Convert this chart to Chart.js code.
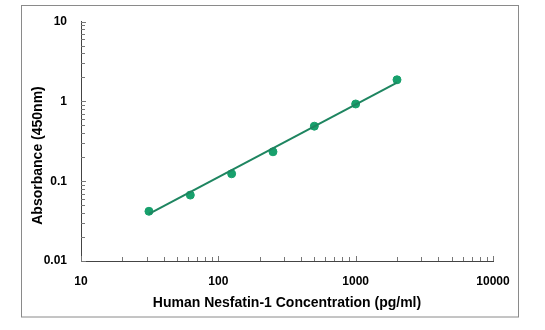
<!DOCTYPE html>
<html>
<head>
<meta charset="utf-8">
<script src="https://cdn.jsdelivr.net/npm/chart.js@4"></script>
<style>
  html, body { margin: 0; padding: 0; background: #fff; }
  #wrap { width: 545px; height: 330px; position: relative; }
</style>
</head>
<body>
<div id="wrap"><canvas id="myChart" width="545" height="330"></canvas></div>
<script>
// standard concentrations (pg/ml) and measured OD
const concentrations = [31.25, 62.5, 125, 250, 500, 1000, 2000];
const absorbance = [0.042, 0.067, 0.124, 0.234, 0.49, 0.93, 1.87];

// fitted curve end points
const fitX = [31.25, 2000];
const fitY = [0.039, 1.72];

// tick labels
const xTicks = [10, 100, 1000, 10000];
const yTicks = [0.01, 0.1, 1, 10];

const green = '#17a06c';
const lineGreen = '#1e8560';
const axisColor = '#444';
const tickFont = { family: 'Liberation Sans, Arial, sans-serif', size: 12, weight: 'bold' };
const titleFont = { family: 'Liberation Sans, Arial, sans-serif', size: 14, weight: 'bold' };

// minor ticks on the inside of both axes, outer frame, y title
const minorTicks = {
  id: 'minorTicks',
  afterDraw(chart) {
    const { ctx, chartArea, scales } = chart;
    ctx.save();
    ctx.strokeStyle = '#777';
    ctx.lineWidth = 1;
    ctx.beginPath();
    for (let d = 10; d < 10000; d *= 10) {
      for (let k = 1; k <= 10; k++) {
        const px = Math.round(scales.x.getPixelForValue(d * k)) + 0.5;
        ctx.moveTo(px, chartArea.bottom);
        ctx.lineTo(px, chartArea.bottom - (k === 1 || k === 10 ? 5 : 4));
      }
    }
    for (let d = 0.01; d < 10; d *= 10) {
      for (let k = 1; k <= 10; k++) {
        const py = Math.round(scales.y.getPixelForValue(d * k)) + 0.5;
        ctx.moveTo(chartArea.left, py);
        ctx.lineTo(chartArea.left + (k === 1 || k === 10 ? 5 : 4), py);
      }
    }
    ctx.stroke();

    // outer frame
    ctx.strokeStyle = '#8a8a8a';
    ctx.strokeRect(21.5, 5.5, 497, 311.5);

    // y title
    ctx.fillStyle = '#000';
    ctx.font = 'bold 14px "Liberation Sans", Arial, sans-serif';
    ctx.textAlign = 'center';
    ctx.textBaseline = 'middle';
    ctx.translate(38, 155.5);
    ctx.rotate(-Math.PI / 2);
    ctx.fillText('Absorbance (450nm)', 0, 0);
    ctx.restore();
  }
};

const ctx = document.getElementById('myChart').getContext('2d');

const myChart = new Chart(ctx, {
  type: 'scatter',
  data: {
    datasets: [{
      label: 'Fit',
      data: fitX.map((x, i) => ({ x: x, y: fitY[i] })),
      showLine: true,
      borderColor: lineGreen,
      borderWidth: 2,
      pointRadius: 0
    }, {
      label: 'Standards',
      data: concentrations.map((x, i) => ({ x: x, y: absorbance[i] })),
      showLine: false,
      backgroundColor: green,
      borderColor: green,
      pointRadius: 4
    }]
  },
  plugins: [minorTicks],
  options: {
    responsive: false,
    animation: false,
    layout: {
      padding: { top: 21.7, right: 52, bottom: 18.6, left: 0 }
    },
    plugins: {
      legend: { display: false },
      tooltip: { enabled: false }
    },
    scales: {
      x: {
        type: 'logarithmic',
        min: 10,
        max: 10000,
        afterBuildTicks: scale => { scale.ticks = xTicks.map(v => ({ value: v })); },
        afterFit: scale => { scale.height = 50.4; },
        grid: { display: false },
        border: { display: true, color: axisColor, width: 1 },
        ticks: {
          color: '#000',
          font: tickFont,
          padding: 5.5,
          maxRotation: 0,
          callback: v => String(v)
        },
        title: {
          display: true,
          text: 'Human Nesfatin-1 Concentration (pg/ml)',
          color: '#000',
          font: titleFont,
          padding: { top: 0, bottom: 0 }
        }
      },
      y: {
        type: 'logarithmic',
        min: 0.01,
        max: 10,
        afterBuildTicks: scale => { scale.ticks = yTicks.map(v => ({ value: v })); },
        afterFit: scale => { scale.width = 81; },
        grid: { display: false },
        border: { display: true, color: axisColor, width: 1 },
        ticks: {
          color: '#000',
          font: tickFont,
          padding: 6,
          callback: v => String(v)
        }
      }
    }
  }
});
</script>
</body>
</html>
